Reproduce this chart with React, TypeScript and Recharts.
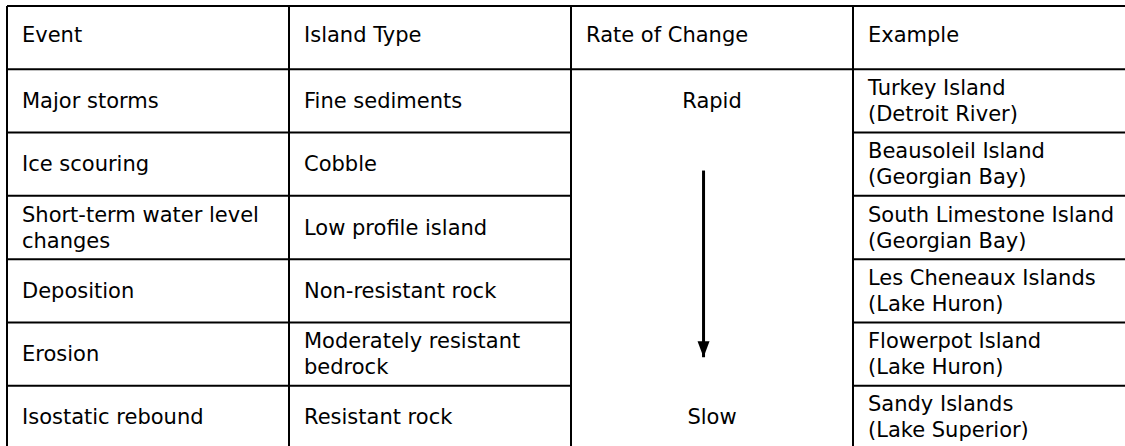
import React from 'react';
import { ScatterChart, Scatter, XAxis, YAxis, ReferenceLine } from 'recharts';

const headers = ['Event', 'Island Type', 'Rate of Change', 'Example'];
const events = [
  'Major storms',
  'Ice scouring',
  'Short-term water level\nchanges',
  'Deposition',
  'Erosion',
  'Isostatic rebound',
];
const islandTypes = [
  'Fine sediments',
  'Cobble',
  'Low profile island',
  'Non-resistant rock',
  'Moderately resistant\nbedrock',
  'Resistant rock',
];
const rates = ['Rapid', '', '', '', '', 'Slow'];
const examples = [
  'Turkey Island\n(Detroit River)',
  'Beausoleil Island\n(Georgian Bay)',
  'South Limestone Island\n(Georgian Bay)',
  'Les Cheneaux Islands\n(Lake Huron)',
  'Flowerpot Island\n(Lake Huron)',
  'Sandy Islands\n(Lake Superior)',
];
// arrow runs from just under "Rapid" down to above "Slow" (row units)
const arrowRows = [2.6, 5.55];

const FONT = '"DejaVu Sans", Verdana, sans-serif';
const LINE = '#000';

const columns = [events, islandTypes, rates, examples];
const nRows = events.length + 1;

// one entry per table cell, placed by column / row index
const cells: any[] = [];
headers.forEach((h, c) => cells.push({ x: c, y: 0.5, label: h, header: true, center: false }));
columns.forEach((col, c) =>
  col.forEach((label, r) => {
    if (!label) return;
    const center = c === 2;
    cells.push({ x: center ? c + 0.5 : c, y: r + 1.5, label, header: false, center });
  })
);

const arrowData = arrowRows.map((y, i) => ({ x: 2.47, y, end: i === arrowRows.length - 1 }));

const CellText = (props: any) => {
  const { cx, cy, payload } = props;
  const lines: string[] = payload.label.split('\n');
  const lh = 26;
  const top = cy - ((lines.length - 1) * lh) / 2 + (payload.header ? -3 : 0);
  const x = payload.center ? cx : cx + 15;
  return (
    <text
      x={x}
      y={top}
      textAnchor={payload.center ? 'middle' : 'start'}
      fontFamily={FONT}
      fontSize={21}
      fill="#000"
      dominantBaseline="central"
    >
      {lines.map((l, i) => (
        <tspan key={i} x={x} y={top + i * lh}>
          {l}
        </tspan>
      ))}
    </text>
  );
};

const ArrowHead = (props: any) => {
  const { cx, cy, payload } = props;
  if (!payload.end) return <g />;
  return <path d={`M${cx - 6},${cy - 16} L${cx + 6},${cy - 16} L${cx},${cy} Z`} fill="#000" />;
};

export default function App() {
  // horizontal rules; the rate column is one merged cell below the header
  const hRules: any[] = [];
  for (let r = 0; r <= nRows; r++) {
    if (r <= 1 || r === nRows) {
      hRules.push({ y: r, x1: 0, x2: 4 });
    } else {
      hRules.push({ y: r, x1: 0, x2: 2 });
      hRules.push({ y: r, x1: 3, x2: 4 });
    }
  }
  const vRules = [0, 1, 2, 3, 4];

  return (
    <div style={{ width: 1125, height: 446, overflow: 'hidden', position: 'relative', background: '#fff' }}>
      <style>{'body{margin:0}'}</style>
      <ScatterChart width={1135} height={449} margin={{ top: 6, right: 0, bottom: 0, left: 7 }}>
        <XAxis type="number" dataKey="x" domain={[0, 4]} hide />
        <YAxis type="number" dataKey="y" domain={[0, nRows]} reversed hide />
        {vRules.map((x) => (
          <ReferenceLine
            key={`v${x}`}
            segment={[{ x, y: 0 }, { x, y: nRows }]}
            stroke={LINE}
            strokeWidth={2}
            ifOverflow="visible"
          />
        ))}
        {hRules.map((h, i) => (
          <ReferenceLine
            key={`h${i}`}
            segment={[{ x: h.x1, y: h.y }, { x: h.x2, y: h.y }]}
            stroke={LINE}
            strokeWidth={2}
            ifOverflow="visible"
          />
        ))}
        <Scatter data={cells} shape={CellText} isAnimationActive={false} />
        <Scatter
          data={arrowData}
          line={{ stroke: '#000', strokeWidth: 3 }}
          shape={ArrowHead}
          isAnimationActive={false}
        />
      </ScatterChart>
    </div>
  );
}
